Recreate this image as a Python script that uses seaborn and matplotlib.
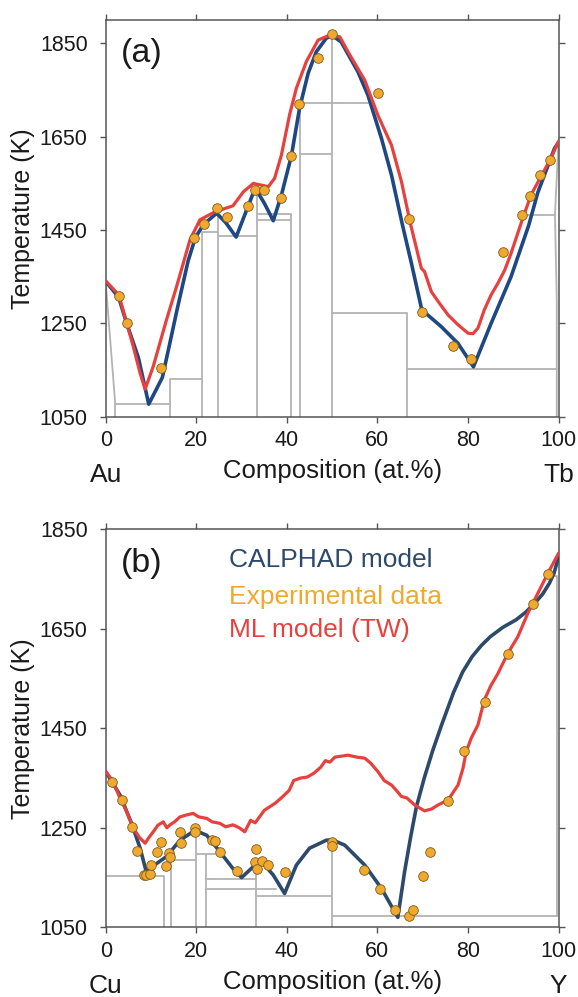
import matplotlib
matplotlib.use("Agg")
import matplotlib.pyplot as plt
import seaborn as sns

# ---------------- datos panel (a): Au-Tb ----------------
au_calphad_x = [0, 2.85, 4.7, 7.2, 9.5, 12.5, 14.1, 15.7, 18.2, 19.8, 21.6, 24.5, 26.5, 28.8,
                31.0, 33.0, 35.0, 37.0, 38.8, 41.0, 42.8, 44.7, 46.5, 48.7, 50.0, 52.0, 55.7,
                57.9, 60.9, 63.1, 65.5, 67.5, 69.8, 74.1, 77.8, 81.2, 85.1, 89.5, 93.4, 95.4,
                99.1, 100]
au_calphad_T = [1340, 1306, 1248, 1177, 1077, 1134, 1205, 1277, 1384, 1434, 1462, 1486, 1466, 1435,
                1490, 1540, 1508, 1470, 1525, 1609, 1711, 1786, 1832, 1861, 1867, 1853, 1789,
                1739, 1646, 1568, 1462, 1379, 1279, 1243, 1207, 1157, 1250, 1350, 1460, 1530,
                1625, 1638]

au_ml_x = [0, 2.9, 6.1, 7.6, 8.7, 10.5, 13.4, 15.65, 18.6, 20.8, 24.1, 28.1, 30.4, 32.6, 35.9,
           37.3, 38.8, 40.6, 42.1, 44.3, 46.9, 49.5, 51.7, 53.5, 57.2, 60.1, 63.1, 65.3, 67.3,
           69.7, 70.4, 71.9, 73.4, 75.6, 77.8, 80.0, 81.1, 82.2, 83.6, 85.1, 86.6, 88.1, 89.5,
           91.7, 93.9, 98.3, 100]
au_ml_T = [1341, 1311, 1200, 1143, 1109, 1158, 1257, 1329, 1429, 1472, 1489, 1502, 1532, 1550, 1543,
           1561, 1611, 1697, 1754, 1811, 1857, 1868, 1864, 1832, 1771, 1696, 1632, 1554, 1463,
           1368, 1361, 1318, 1297, 1268, 1247, 1229, 1228, 1240, 1279, 1311, 1336, 1364, 1400,
           1464, 1525, 1604, 1640]

au_exp_x = [2.9, 4.6, 12.3, 19.5, 21.7, 24.5, 26.7, 31.5, 32.9, 34.9, 38.6, 41.0, 42.7, 46.9,
            50.0, 60.1, 67.0, 69.9, 76.7, 80.7, 87.7, 91.9, 93.6, 95.9, 98.2]
au_exp_T = [1308, 1250, 1155, 1434, 1464, 1498, 1477, 1502, 1536, 1536, 1519, 1609, 1721, 1819,
            1871, 1744, 1474, 1275, 1202, 1173, 1402, 1482, 1522, 1567, 1600]

# lineas del diagrama de fases (gris), cada una (x, T)
au_fases = [
    ([0, 2.1], [1338, 1078]),
    ([2.1, 2.1, 14.2], [1050, 1078, 1078]),
    ([14.2, 14.2, 21.3], [1050, 1130, 1130]),
    ([21.3, 21.3, 24.8], [1050, 1446, 1446]),
    ([24.8, 24.8], [1050, 1485]),
    ([24.8, 33.3], [1438, 1438]),
    ([33.3, 33.3], [1050, 1540]),
    ([33.3, 41.0], [1472, 1472]),
    ([33.3, 41.0, 41.0], [1484, 1484, 1050]),
    ([42.8, 42.8, 58.0], [1050, 1723, 1723]),
    ([42.8, 50.0], [1614, 1614]),
    ([50.0, 50.0], [1050, 1868]),
    ([50.0, 66.6, 66.6], [1272, 1272, 1050]),
    ([66.6, 99.6], [1153, 1153]),
    ([92.3, 99.2], [1483, 1483]),
    ([100, 99.2, 99.6, 99.6], [1645, 1483, 1300, 1050]),
]

# ---------------- datos panel (b): Cu-Y ----------------
cu_calphad_x = [0, 3.15, 5.7, 7.6, 9.0, 11.2, 13.4, 16.4, 19.7, 22.3, 25.2, 28.1, 30.0, 32.6,
                34.8, 37.0, 39.5, 42.1, 45.0, 48.7, 50.0, 52.8, 57.2, 60.9, 64.5, 66.0, 67.3,
                68.6, 70.4, 72.2, 74.1, 76.8, 78.8, 80.9, 82.9, 84.9, 87.7, 90.6, 92.7, 94.7,
                96.5, 98.0, 99.0, 100]
cu_calphad_T = [1363, 1316, 1259, 1209, 1160, 1178, 1192, 1225, 1245, 1235, 1202, 1168, 1150, 1172,
                1178, 1155, 1118, 1175, 1209, 1225, 1226, 1215, 1175, 1128, 1070, 1162, 1230,
                1292, 1352, 1405, 1455, 1522, 1563, 1594, 1616, 1634, 1653, 1668, 1683, 1701,
                1720, 1742, 1762, 1795]

cu_ml_x = [0, 1.5, 3.2, 4.5, 6.1, 7.5, 8.7, 9.5, 10.5, 11.5, 12.7, 13.5, 14.2, 15.2, 16.4, 17.5,
           19.3, 20.5, 22.3, 23.5, 25.2, 26.5, 28.1, 29.5, 30.7, 32.0, 33.0, 35.0, 37.5, 39.0,
           40.5, 41.5, 43.0, 44.5, 46.0, 47.5, 48.5, 49.5, 50.6, 51.3, 53.5, 55.5, 57.2, 58.5,
           60.1, 61.5, 63.1, 64.2, 65.3, 66.5, 68.2, 70.4, 72.0, 73.4, 75.6, 77.8, 78.9, 79.6,
           80.7, 82.2, 83.6, 85.0, 86.6, 88.8, 91.0, 93.2, 95.4, 97.6, 100]
cu_ml_T = [1363, 1345, 1309, 1285, 1249, 1230, 1219, 1230, 1242, 1255, 1262, 1250, 1256, 1262,
           1272, 1275, 1279, 1272, 1269, 1262, 1259, 1252, 1256, 1250, 1242, 1265, 1260, 1285,
           1300, 1312, 1325, 1345, 1350, 1352, 1360, 1372, 1385, 1382, 1392, 1393, 1396, 1392,
           1390, 1380, 1363, 1345, 1336, 1325, 1313, 1310, 1296, 1284, 1288, 1296, 1306, 1336,
           1370, 1403, 1430, 1457, 1507, 1535, 1560, 1601, 1634, 1681, 1721, 1761, 1802]

cu_exp_x = [1.46, 3.67, 5.87, 6.98, 8.52, 9.0, 9.8, 10.1, 11.4, 12.3, 13.4, 13.96, 14.3, 16.4,
            16.6, 19.7, 19.8, 23.5, 24.1, 25.2, 28.9, 33.1, 32.9, 33.3, 34.4, 35.9, 39.5, 50.0,
            50.0, 57.0, 60.5, 63.9, 66.9, 67.8, 70.1, 71.5, 75.6, 79.2, 83.8, 88.8, 94.4, 97.6]
cu_exp_T = [1343, 1305, 1252, 1203, 1156, 1155, 1158, 1175, 1202, 1222, 1174, 1199, 1192, 1242,
            1219, 1250, 1241, 1225, 1223, 1202, 1164, 1207, 1181, 1168, 1183, 1175, 1162, 1221,
            1214, 1165, 1127, 1085, 1073, 1085, 1154, 1202, 1304, 1404, 1502, 1599, 1699, 1760]

cu_fases = [
    ([0, 12.9, 12.9], [1154, 1154, 1050]),
    ([14.5, 14.5, 19.9], [1050, 1185, 1185]),
    ([19.9, 19.9], [1050, 1245]),
    ([19.9, 24.2], [1198, 1198]),
    ([22.1, 22.1], [1050, 1198]),
    ([22.1, 33.2], [1148, 1148]),
    ([22.1, 37.7], [1128, 1128]),
    ([33.2, 33.2], [1050, 1168]),
    ([33.2, 50.0], [1113, 1113]),
    ([50.0, 50.0], [1050, 1225]),
    ([50.0, 99.6], [1072, 1072]),
    ([99.6, 99.6, 98.0], [1072, 1756, 1756]),
]

yticks = [1050, 1250, 1450, 1650, 1850]
xticks = [0, 20, 40, 60, 80, 100]

# ---------------- estilo ----------------
sns.set_theme(style="ticks")
plt.rcParams['font.family'] = ['Liberation Sans', 'DejaVu Sans']

AZUL_A = '#1d4884'
AZUL_B = '#2d4a6c'
ROJO = '#e8403d'
NARANJA = '#f0a92e'
GRIS = '#b3b3b3'

fig = plt.figure(figsize=(5.78, 9.97), dpi=100)
ax_a = fig.add_axes([0.1829, 0.582, 0.7835, 0.3979])
ax_b = fig.add_axes([0.1829, 0.0699, 0.7835, 0.3992])


def dibujar(ax, fases, calphad_x, calphad_T, ml_x, ml_T, exp_x, exp_T, azul, ylim):
    for xs, ts in fases:
        ax.plot(xs, ts, color=GRIS, lw=1.3, zorder=1)
    sns.lineplot(x=calphad_x, y=calphad_T, ax=ax, color=azul, lw=2.6, sort=False,
                 estimator=None, zorder=3)
    sns.lineplot(x=ml_x, y=ml_T, ax=ax, color=ROJO, lw=2.3, sort=False,
                 estimator=None, zorder=4)
    sns.scatterplot(x=exp_x, y=exp_T, ax=ax, color=NARANJA, edgecolor='#7a5c1e',
                    linewidth=0.6, s=48, zorder=5)
    ax.set_xlim(0, 100)
    ax.set_ylim(*ylim)
    ax.set_xticks(xticks)
    ax.set_yticks(yticks)
    ax.tick_params(axis='both', which='both', direction='out', length=4.5, width=1,
                   color='#555555', labelsize=15.5, labelcolor='#1a1a1a',
                   top=True, right=True, labeltop=False, labelright=False)
    ax.tick_params(axis='x', pad=5)
    ax.tick_params(axis='y', pad=8.5)
    for sp in ax.spines.values():
        sp.set_visible(True)
        sp.set_color('#555555')
        sp.set_linewidth(1.1)
    ax.set_xlabel('Composition (at.%)', fontsize=18.5, va='center', color='#1a1a1a')
    ax.xaxis.set_label_coords(0.5, -0.137)
    ax.set_ylabel('Temperature (K)', fontsize=18, va='center', color='#1a1a1a')
    ax.yaxis.set_label_coords(-0.183, 0.5)


dibujar(ax_a, au_fases, au_calphad_x, au_calphad_T, au_ml_x, au_ml_T, au_exp_x, au_exp_T,
        AZUL_A, (1050, 1900))
dibujar(ax_b, cu_fases, cu_calphad_x, cu_calphad_T, cu_ml_x, cu_ml_T, cu_exp_x, cu_exp_T,
        AZUL_B, (1050, 1850))

for ax, izq, der in [(ax_a, 'Au', 'Tb'), (ax_b, 'Cu', 'Y')]:
    ax.text(0.0, -0.148, izq, transform=ax.transAxes, ha='center', va='center',
            fontsize=19, color='#1a1a1a')
    ax.text(1.0, -0.148, der, transform=ax.transAxes, ha='center', va='center',
            fontsize=19, color='#1a1a1a')

ax_a.text(3.3, 1829, '(a)', fontsize=24.5, ha='left', va='center', color='#1a1a1a')
ax_b.text(3.3, 1782, '(b)', fontsize=24.5, ha='left', va='center', color='#1a1a1a')

# leyenda como texto coloreado
ax_b.text(27.2, 1788, 'CALPHAD model', color=AZUL_B, fontsize=19, va='center')
ax_b.text(27.2, 1714, 'Experimental data', color=NARANJA, fontsize=19, va='center')
ax_b.text(27.2, 1648, 'ML model (TW)', color=ROJO, fontsize=19, va='center')

fig.savefig('out.png', dpi=100)
